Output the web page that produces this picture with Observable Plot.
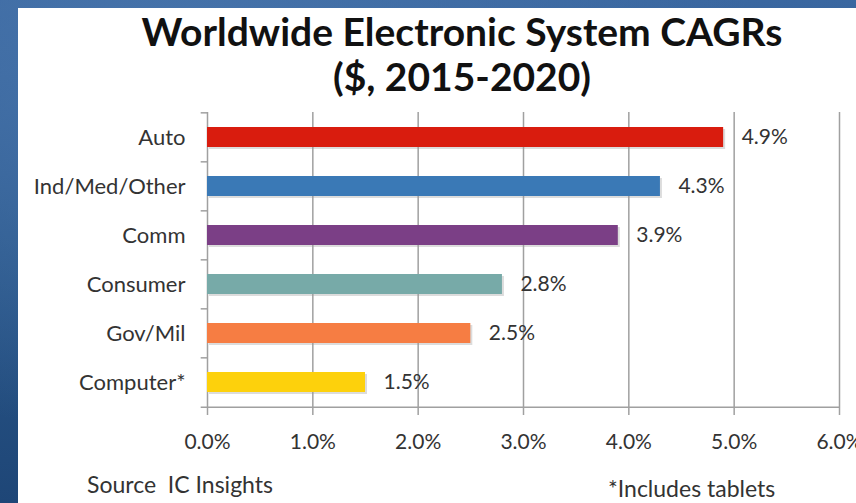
<!DOCTYPE html>
<html>
<head>
<meta charset="utf-8">
<script src="https://cdn.jsdelivr.net/npm/d3@7"></script>
<script src="https://cdn.jsdelivr.net/npm/@observablehq/plot@0.6"></script>
<style>
  html, body { margin: 0; padding: 0; }
  body {
    width: 856px; height: 503px; overflow: hidden; position: relative;
    background: radial-gradient(ellipse at 20% 10%, #4673aa 0%, rgba(0,0,0,0) 60%),
                linear-gradient(180deg, #3a67a0 0%, #2a5789 50%, #1e4677 100%);
    font-family: Lato, "Open Sans", sans-serif;
  }
  #panel {
    position: absolute; left: 18px; top: 8px; width: 838px; height: 495px;
    background: #ffffff; overflow: hidden;
  }
  #title {
    position: absolute; left: 50px; top: 1px; width: 788px; text-align: center;
    font-weight: bold; font-size: 39px; line-height: 45px; color: #111;
  }
  #chart { position: absolute; left: 0; top: 92px; }
  .foot { position: absolute; font-size: 23px; color: #333; white-space: nowrap; }
</style>
</head>
<body>
<div id="panel">
  <div id="title">Worldwide Electronic System CAGRs<br>($, 2015-2020)</div>
  <div id="chart"></div>
  <div class="foot" style="left:69px; top:462px;">Source&nbsp; IC Insights</div>
  <div class="foot" style="left:590px; top:466px;">*Includes tablets</div>
</div>
<script>
const categories = ["Auto", "Ind/Med/Other", "Comm", "Consumer", "Gov/Mil", "Computer*"];
const values = [4.9, 4.3, 3.9, 2.8, 2.5, 1.5];
const colors = ["#d91c0e", "#3a79b6", "#7b3f86", "#77aaa8", "#f67d43", "#fdd10c"];
const xTicks = [0, 1, 2, 3, 4, 5, 6];

const data = categories.map((c, i) => ({category: c, value: values[i], color: colors[i]}));
const halfStep = 296 / categories.length / 2;
const fmt = d => d.toFixed(1) + "%";

const chart = Plot.plot({
  width: 838,
  height: 361,
  marginLeft: 189,
  marginRight: 17,
  marginTop: 12,
  marginBottom: 53,
  style: {fontFamily: "Lato, 'Open Sans', sans-serif", color: "#333", background: "transparent"},
  x: {domain: [0, 6], ticks: xTicks, tickFormat: fmt, label: null},
  y: {domain: categories, paddingInner: 0.59, paddingOuter: 0.295, label: null},
  marks: [
    Plot.ruleX(xTicks.slice(1), {stroke: "#a0a0a0", strokeWidth: 1.5}),
    Plot.ruleX([0], {stroke: "#a0a0a0", strokeWidth: 1.5}),
    Plot.ruleY(categories, {y: d => d, x1: -0.06, x2: 0, dy: -halfStep, stroke: "#a0a0a0", strokeWidth: 1.5}),
    Plot.ruleY([categories[categories.length - 1]], {y: d => d, x1: -0.06, x2: 6, dy: halfStep, stroke: "#a0a0a0", strokeWidth: 1.5}),
    Plot.axisX({ticks: xTicks, tickSize: 7, tickPadding: 19, fontSize: 21, stroke: "#a0a0a0", strokeWidth: 1.5, tickFormat: fmt, fill: "#333"}),
    Plot.axisY({tickSize: 0, tickPadding: 22, fontSize: 22, fill: "#333"}),
    Plot.barX(data, {y: "category", x: "value", fill: "#9a9a9a", fillOpacity: 0.35, dx: 2, dy: 2}),
    Plot.barX(data, {y: "category", x: "value", fill: "color"}),
    Plot.text(data, {y: "category", x: "value", text: d => fmt(d.value), dx: 18, textAnchor: "start", fontSize: 21, fill: "#333"})
  ]
});
document.getElementById("chart").appendChild(chart);
</script>
</body>
</html>
